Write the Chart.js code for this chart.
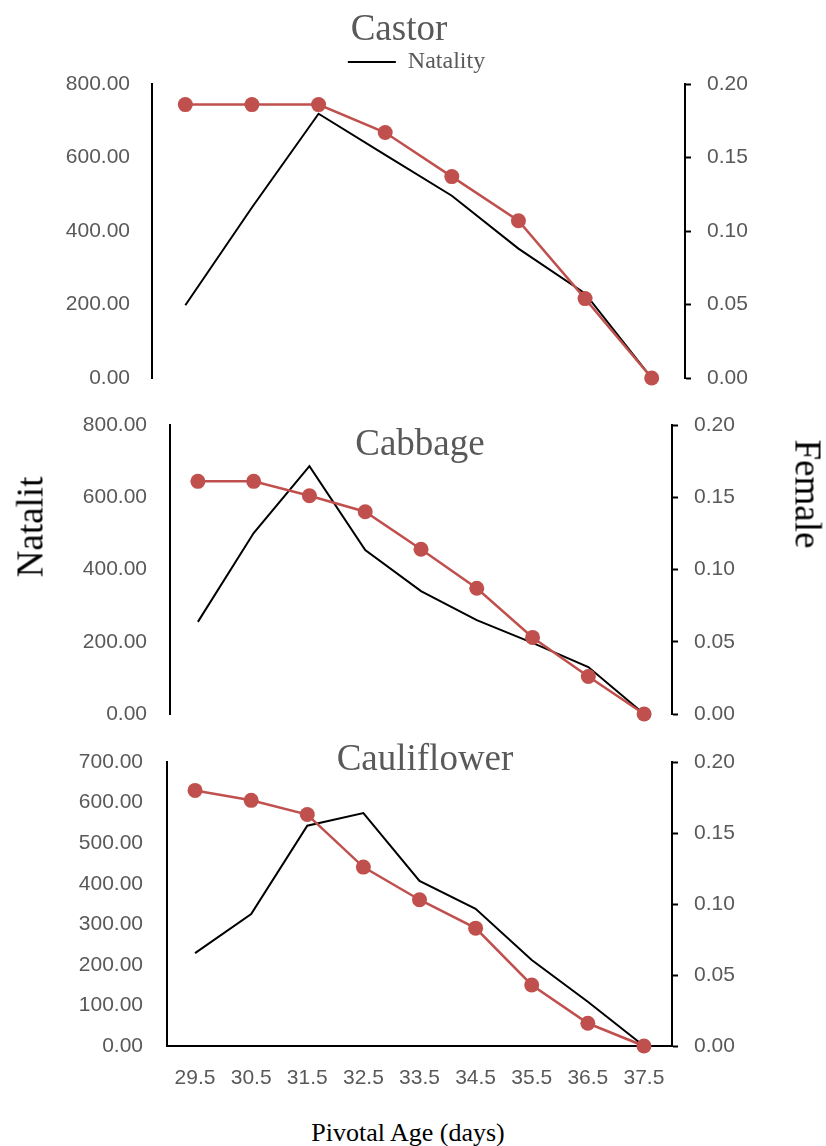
<!DOCTYPE html>
<html>
<head>
<meta charset="utf-8">
<script src="https://cdn.jsdelivr.net/npm/chart.js@4.4.1/dist/chart.umd.min.js"></script>
<style>
  html, body { margin: 0; padding: 0; background: #fff; }
  #page { position: relative; width: 826px; height: 1146px; overflow: hidden; }
  .panel { position: absolute; left: 0; width: 826px; }
  .lbl { position: absolute; white-space: nowrap; line-height: 1;
         font-family: "Liberation Serif", "Times New Roman", serif; }
  .title { font-size: 37px; color: #595959; transform: translate(-50%, -50%); }
  .axis { font-size: 37px; color: #000; }
</style>
</head>
<body>
<div id="page">
  <div class="panel" style="top:0;height:418px"><canvas id="castor"></canvas></div>
  <div class="panel" style="top:385px;height:369px"><canvas id="cabbage"></canvas></div>
  <div class="panel" style="top:722px;height:389px"><canvas id="cauliflower"></canvas></div>

  <div class="lbl title" style="left:399px;top:27px">Castor</div>
  <div class="lbl title" style="left:420px;top:442px">Cabbage</div>
  <div class="lbl title" style="left:425px;top:757px">Cauliflower</div>

  <div class="lbl axis" style="left:30px;top:527px;transform:translate(-50%,-50%) rotate(-90deg)">Natalit</div>
  <div class="lbl axis" style="left:808px;top:494px;transform:translate(-50%,-50%) rotate(90deg)">Female</div>
  <div class="lbl" style="left:408px;top:1133px;font-size:26px;color:#000;transform:translate(-50%,-50%)">Pivotal Age (days)</div>
</div>

<script>
// pivotal ages (days)
const agesCastor = ['29.5', '30.5', '31.5', '32.5', '33.5', '34.5', '35.5', '36.5'];
const ages = ['29.5', '30.5', '31.5', '32.5', '33.5', '34.5', '35.5', '36.5', '37.5'];

// natality (left axis) and female proportion (right axis)
const castorNatality = [198, 464, 719, 607, 496, 352, 230, 0];
const castorFemale = [0.186, 0.186, 0.186, 0.167, 0.137, 0.107, 0.054, 0];

const cabbageNatality = [255, 501, 686, 454, 340, 260, 197, 130, 0];
const cabbageFemale = [0.161, 0.161, 0.151, 0.140, 0.114, 0.087, 0.053, 0.026, 0];

const cauliNatality = [229, 325, 543, 574, 407, 338, 212, 109, 0];
const cauliFemale = [0.180, 0.173, 0.163, 0.126, 0.103, 0.083, 0.043, 0.016, 0];

const GREY = '#595959';
const RED = '#C0504D';
const SERIF = '"Liberation Serif", "Times New Roman", serif';
const TICK_FONT = { family: '"Liberation Sans", Arial, sans-serif', size: 21 };

function panel(canvasId, cfg) {
    const ctx = document.getElementById(canvasId);
    if (!ctx) return;

    return new Chart(ctx, {
        type: 'line',
        data: {
            labels: cfg.labels,
            datasets: [
                {
                    label: 'Natality',
                    data: cfg.natality,
                    borderColor: '#000',
                    backgroundColor: '#000',
                    borderWidth: 2,
                    pointRadius: 0,
                    tension: 0,
                    yAxisID: 'y',
                    order: 1,
                    clip: false
                },
                {
                    label: 'Female',
                    data: cfg.female,
                    borderColor: RED,
                    backgroundColor: RED,
                    borderWidth: 2.5,
                    pointRadius: 7.5,
                    pointHoverRadius: 7.5,
                    pointBorderWidth: 0,
                    tension: 0,
                    yAxisID: 'y1',
                    order: 0,
                    clip: false
                }
            ]
        },
        options: {
            responsive: true,
            maintainAspectRatio: false,
            animation: false,
            layout: { padding: cfg.padding },
            plugins: {
                legend: cfg.legend ? {
                    display: true,
                    position: 'top',
                    labels: {
                        filter: item => item.datasetIndex === 0,
                        boxWidth: 48,
                        boxHeight: 0,
                        padding: 5,
                        color: GREY,
                        font: { family: SERIF, size: 24 }
                    }
                } : { display: false },
                tooltip: { enabled: false }
            },
            scales: {
                x: cfg.showX ? {
                    offset: true,
                    grid: { display: true, drawOnChartArea: false, drawTicks: false },
                    border: { display: true, color: '#000', width: 2 },
                    ticks: { color: GREY, font: TICK_FONT, padding: 20, maxRotation: 0 },
                    afterFit: axis => { axis.height = 60; }
                } : { display: false, offset: true },
                y: {
                    position: 'left',
                    min: 0,
                    max: cfg.leftMax,
                    grid: { display: false, drawTicks: false },
                    border: { display: true, color: '#000', width: 2 },
                    ticks: {
                        stepSize: cfg.leftStep,
                        color: GREY,
                        font: TICK_FONT,
                        padding: cfg.leftPad,
                        callback: v => v.toFixed(2)
                    },
                    afterFit: axis => { axis.width = cfg.leftWidth; }
                },
                y1: {
                    position: 'right',
                    min: 0,
                    max: 0.2,
                    grid: {
                        display: true,
                        drawOnChartArea: false,
                        drawTicks: true,
                        tickLength: 6,
                        tickWidth: 2,
                        tickColor: '#000'
                    },
                    border: { display: true, color: '#000', width: 2 },
                    ticks: {
                        stepSize: 0.05,
                        color: GREY,
                        font: TICK_FONT,
                        padding: 16,
                        callback: v => v.toFixed(2)
                    },
                    afterFit: axis => { axis.width = cfg.rightWidth; }
                }
            }
        }
    });
}

panel('castor', {
    labels: agesCastor,
    natality: castorNatality,
    female: castorFemale,
    legend: true,
    showX: false,
    leftMax: 800, leftStep: 200, leftPad: 22,
    leftWidth: 142, rightWidth: 138,
    padding: { top: 45, left: 10, right: 3, bottom: 40 }
});

panel('cabbage', {
    labels: ages,
    natality: cabbageNatality,
    female: cabbageFemale,
    legend: false,
    showX: false,
    leftMax: 800, leftStep: 200, leftPad: 23,
    leftWidth: 160, rightWidth: 151,
    padding: { top: 40, left: 10, right: 3, bottom: 40 }
});

panel('cauliflower', {
    labels: ages,
    natality: cauliNatality,
    female: cauliFemale,
    legend: false,
    showX: true,
    leftMax: 700, leftStep: 100, leftPad: 24,
    leftWidth: 157, rightWidth: 151,
    padding: { top: 40, left: 10, right: 3, bottom: 5 }
});
</script>
</body>
</html>
